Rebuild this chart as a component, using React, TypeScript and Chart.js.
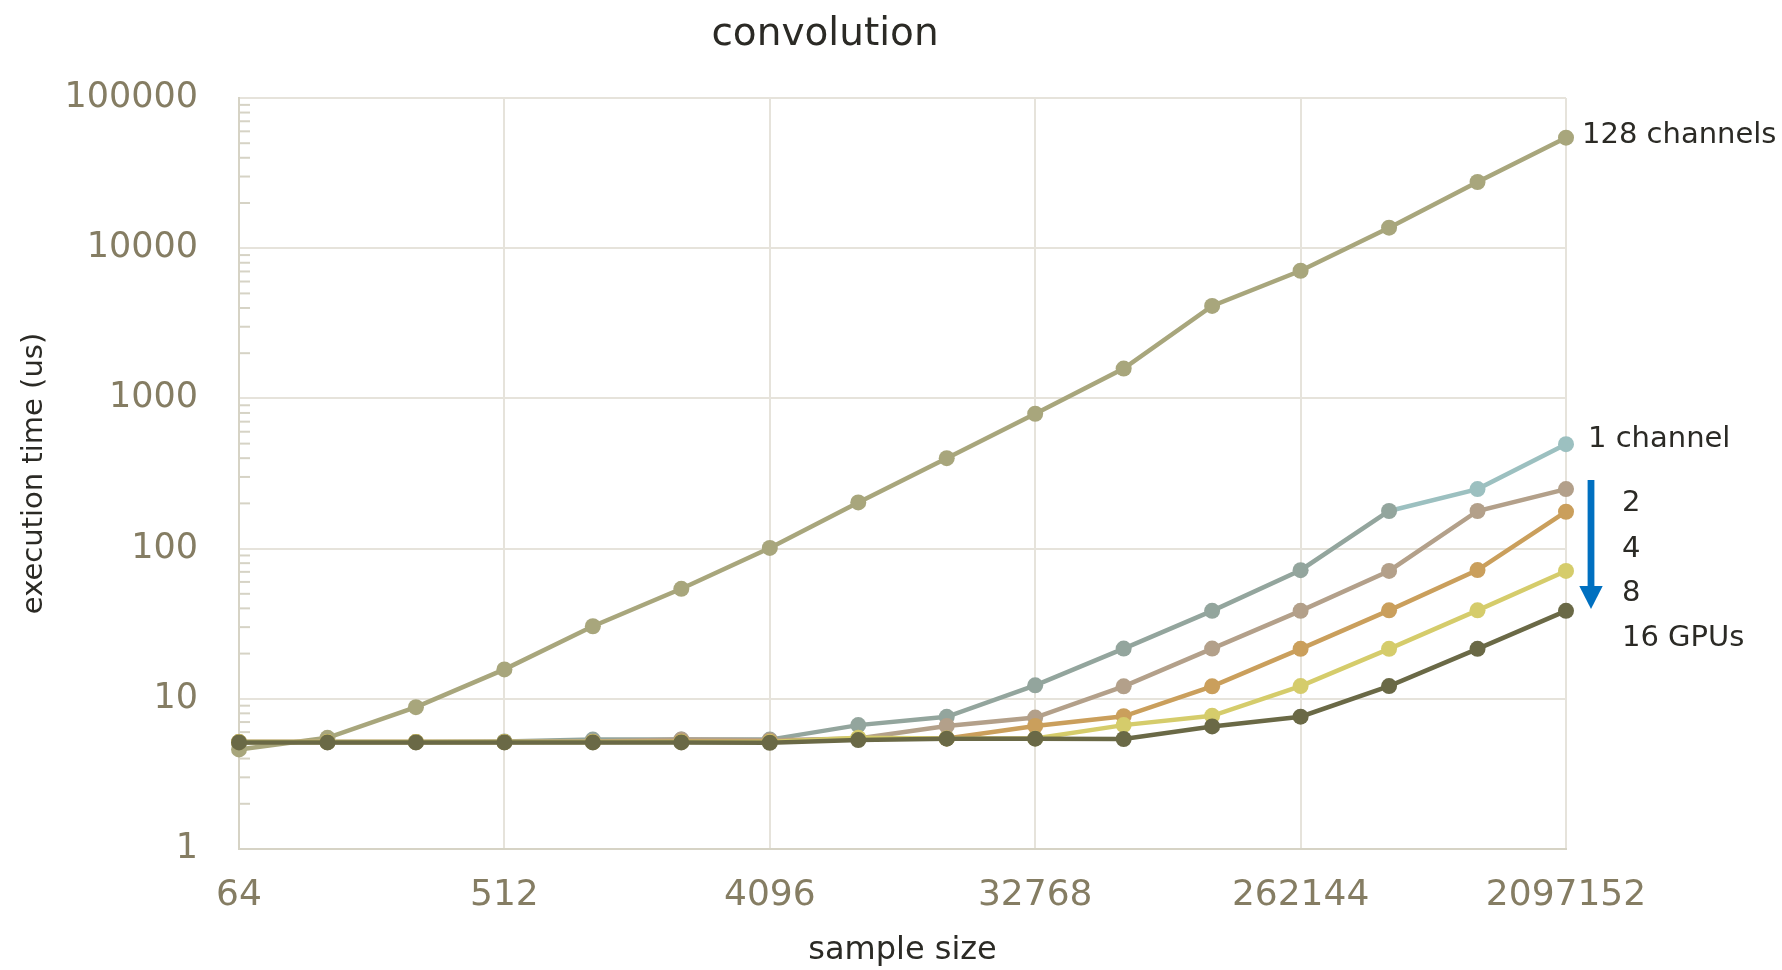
import React, { useEffect, useRef } from "react";
import { Chart, registerables } from "chart.js";

Chart.register(...registerables);

// ---------- data ----------
const sampleSizes = [
  64, 128, 256, 512, 1024, 2048, 4096, 8192, 16384, 32768, 65536, 131072,
  262144, 524288, 1048576, 2097152,
];
const xTickLabels = ["64", "512", "4096", "32768", "262144", "2097152"];
const yTickValues = [1, 10, 100, 1000, 10000, 100000];

const ch128 = [4.6, 5.5, 8.8, 15.7, 30.4, 54, 101, 203, 400, 790, 1580, 4130, 7080, 13700, 27600, 54400];
const ch1 = [5.15, 5.15, 5.15, 5.2, 5.35, 5.35, 5.35, 6.68, 7.59, 12.3, 21.6, 38.5, 71.8, 178, 249, 496];
const ch2 = [5.15, 5.15, 5.15, 5.15, 5.2, 5.35, 5.3, 5.45, 6.6, 7.5, 12.1, 21.6, 38.5, 71, 178, 249];
const ch4 = [5.15, 5.15, 5.15, 5.15, 5.15, 5.2, 5.2, 5.4, 5.45, 6.6, 7.65, 12.1, 21.5, 38.8, 71.9, 176];
const ch8 = [5.15, 5.15, 5.15, 5.15, 5.15, 5.15, 5.15, 5.5, 5.45, 5.45, 6.68, 7.7, 12.15, 21.5, 38.8, 71];
const ch16 = [5.12, 5.12, 5.12, 5.12, 5.12, 5.12, 5.1, 5.31, 5.43, 5.43, 5.4, 6.55, 7.6, 12.15, 21.5, 38.5];

const titleText = "convolution";
const xTitle = "sample size";
const yTitle = "execution time (us)";
const seriesLabels = ["128 channels", "1 channel", "2", "4", "8", "16 GPUs"];

// ---------- styles ----------
const FONT = "'DejaVu Sans', sans-serif";
const TICK_COLOR = "#857D63";
const TEXT_COLOR = "#2B2A25";
const GRID_COLOR = "#E6E3DB";
const AXIS_COLOR = "#D6D3C5";
const ARROW_COLOR = "#0070C0";

const C128 = "#A8A67C";
const C1 = "#93A59D";
const C1_END = "#9CC0C0";
const C2 = "#B3A08A";
const C4 = "#CA9F5C";
const C8 = "#D5CC6B";
const C16 = "#6A6946";

const overlayPlugin = {
  id: "overlay",
  beforeDatasetsDraw(chart: any) {
    const { ctx, chartArea, scales } = chart;
    const y = scales.y;
    ctx.save();
    ctx.strokeStyle = AXIS_COLOR;
    ctx.lineWidth = 2;
    for (let d = 1; d < 100000; d *= 10) {
      for (let k = 2; k <= 9; k++) {
        const py = y.getPixelForValue(k * d);
        ctx.beginPath();
        ctx.moveTo(chartArea.left, py);
        ctx.lineTo(chartArea.left + 11, py);
        ctx.stroke();
      }
    }
    ctx.restore();
  },
  afterDraw(chart: any) {
    const { ctx, chartArea } = chart;
    const r = chartArea.right;
    ctx.save();
    // title
    ctx.fillStyle = TEXT_COLOR;
    ctx.font = `39px ${FONT}`;
    ctx.textAlign = "center";
    ctx.textBaseline = "alphabetic";
    ctx.fillText(titleText, 825, 45);

    // series labels
    ctx.font = `29px ${FONT}`;
    ctx.textAlign = "left";
    ctx.fillText(seriesLabels[0], r + 16, 143);
    ctx.fillText(seriesLabels[1], r + 22, 447);
    ctx.fillText(seriesLabels[2], r + 56, 511);
    ctx.fillText(seriesLabels[3], r + 56, 557);
    ctx.fillText(seriesLabels[4], r + 56, 601);
    ctx.fillText(seriesLabels[5], r + 56, 646);

    // arrow
    ctx.fillStyle = ARROW_COLOR;
    const ax = r + 25;
    ctx.fillRect(ax - 3.4, 480, 6.8, 107);
    ctx.beginPath();
    ctx.moveTo(ax - 11.7, 586);
    ctx.lineTo(ax + 11.7, 586);
    ctx.lineTo(ax, 609);
    ctx.closePath();
    ctx.fill();
    ctx.restore();
  },
};

function mkSet(label: string, data: number[], color: string, order: number) {
  return {
    label,
    data,
    borderColor: color,
    backgroundColor: color,
    pointBackgroundColor: color,
    pointBorderColor: color,
    pointBorderWidth: 0,
    pointRadius: 8,
    borderWidth: 4.5,
    tension: 0,
    clip: false as any,
    order,
  };
}

export default function App() {
  const ref = useRef<HTMLCanvasElement>(null);

  useEffect(() => {
    if (!ref.current) return;
    const set1: any = mkSet(seriesLabels[1], ch1, C1, 4);
    set1.segment = {
      borderColor: (c: any) => (c.p0DataIndex >= 13 ? C1_END : C1),
    };
    set1.pointBackgroundColor = (c: any) => (c.dataIndex >= 14 ? C1_END : C1);
    set1.pointBorderColor = set1.pointBackgroundColor;

    const chart = new Chart(ref.current, {
      type: "line",
      data: {
        labels: sampleSizes.map(String),
        datasets: [
          mkSet(seriesLabels[0], ch128, C128, 5),
          set1,
          mkSet(seriesLabels[2], ch2, C2, 3),
          mkSet(seriesLabels[3], ch4, C4, 2),
          mkSet(seriesLabels[4], ch8, C8, 1),
          mkSet(seriesLabels[5], ch16, C16, 0),
        ],
      },
      options: {
        responsive: false,
        animation: false,
        events: [],
        layout: { padding: { top: 98, right: 216, left: 0, bottom: 0 } },
        plugins: {
          legend: { display: false },
          tooltip: { enabled: false },
          title: { display: false },
        },
        scales: {
          x: {
            type: "category",
            offset: false,
            border: { display: true, color: AXIS_COLOR, width: 2 },
            grid: {
              drawTicks: false,
              lineWidth: 2,
              color: (c: any) =>
                xTickLabels.includes(String(sampleSizes[c.index])) ? GRID_COLOR : "rgba(0,0,0,0)",
            },
            ticks: {
              autoSkip: false,
              maxRotation: 0,
              minRotation: 0,
              padding: 25,
              color: TICK_COLOR,
              font: { family: FONT, size: 36 },
              callback: (_v: any, i: number) => {
                const s = String(sampleSizes[i]);
                return xTickLabels.includes(s) ? s : "";
              },
            },
            title: {
              display: true,
              text: xTitle,
              color: TEXT_COLOR,
              font: { family: FONT, size: 32 },
              padding: { top: 0, bottom: 0 },
            },
            afterFit: (s: any) => {
              s.height = 121;
            },
          },
          y: {
            type: "logarithmic",
            min: 1,
            max: 100000,
            border: { display: true, color: AXIS_COLOR, width: 2 },
            grid: { drawTicks: false, lineWidth: 2, color: GRID_COLOR },
            afterBuildTicks: (s: any) => {
              s.ticks = yTickValues.map((v) => ({ value: v }));
            },
            ticks: {
              padding: 41,
              color: TICK_COLOR,
              font: { family: FONT, size: 35 },
              callback: (v: any) => String(v),
            },
            title: {
              display: true,
              text: yTitle,
              color: TEXT_COLOR,
              font: { family: FONT, size: 29 },
              padding: { top: 17, bottom: 0 },
            },
            afterFit: (s: any) => {
              s.width = 239;
            },
          },
        },
      },
      plugins: [overlayPlugin],
    });
    return () => chart.destroy();
  }, []);

  return (
    <div style={{ position: "absolute", left: 0, top: 0, width: 1782, height: 970, background: "#fff" }}>
      <canvas ref={ref} width={1782} height={970} style={{ display: "block" }} />
    </div>
  );
}
